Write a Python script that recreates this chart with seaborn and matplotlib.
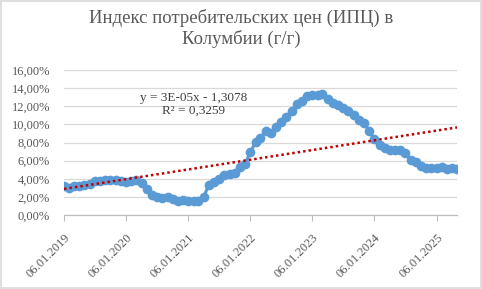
import numpy as np
import pandas as pd
import matplotlib
matplotlib.use("Agg")
import matplotlib.pyplot as plt
import matplotlib.dates as mdates
from matplotlib.ticker import FuncFormatter
import seaborn as sns

title = "Индекс потребительских цен (ИПЦ) в\nКолумбии (г/г)"
start_month = "2019-01-01"
cpi = [
    3.15, 3.01, 3.21, 3.25, 3.31, 3.43, 3.79, 3.75, 3.82, 3.86, 3.84, 3.80,
    3.62, 3.72, 3.86, 3.51, 2.85, 2.19, 1.97, 1.88, 1.97, 1.75, 1.49, 1.61,
    1.60, 1.56, 1.51, 1.95, 3.30, 3.63, 3.97, 4.44, 4.51, 4.58, 5.26, 5.62,
    6.94, 8.01, 8.53, 9.23, 9.07, 9.67, 10.21, 10.84, 11.44, 12.22, 12.53, 13.12,
    13.25, 13.28, 13.34, 12.82, 12.36, 12.13, 11.78, 11.43, 10.99, 10.48, 10.15, 9.28,
    8.35, 7.74, 7.36, 7.16, 7.16, 7.18, 6.86, 6.12, 5.81, 5.41, 5.20, 5.20,
    5.22, 5.28, 5.09, 5.16, 5.05,
]
tick_dates = ["2019-01-01", "2020-01-01", "2021-01-01", "2022-01-01",
              "2023-01-01", "2024-01-01", "2025-01-01"]
tick_labels = ["06.01.2019", "06.01.2020", "06.01.2021", "06.01.2022",
               "06.01.2023", "06.01.2024", "06.01.2025"]
trend_label = "y = 3E-05x - 1,3078\nR² = 0,3259"

dates = pd.date_range(start_month, periods=len(cpi), freq="MS")
df = pd.DataFrame({"date": dates, "cpi": np.array(cpi) / 100.0})

sns.set_theme(style="white")
plt.rcParams["font.family"] = ["Liberation Serif", "DejaVu Serif"]

fig = plt.figure(figsize=(4.82, 2.89), dpi=100)
ax = fig.add_axes([64 / 482, 1 - 215 / 289, (457 - 64) / 482, (215 - 70) / 289])

grey = "#595959"
ax.grid(axis="y", color="#d9d9d9", linewidth=0.9)
ax.set_axisbelow(True)

sns.lineplot(data=df, x="date", y="cpi", ax=ax, color="#5B9BD5", linewidth=2.3,
             marker="o", markersize=7, markeredgewidth=0, zorder=3)

# linear trend
xn = mdates.date2num(df["date"])
coef = np.polyfit(xn, df["cpi"].values, 1)
ax.plot(df["date"], np.polyval(coef, xn), color="#C00000", linestyle=(0, (1, 1.2)),
        linewidth=1.8, zorder=4)

ax.set_xlim(dates[0], dates[-1])
ax.set_ylim(0, 0.16)
ax.set_yticks(np.arange(0, 0.161, 0.02))
ax.yaxis.set_major_formatter(FuncFormatter(lambda v, p: f"{v*100:.2f}%".replace(".", ",")))
ax.set_xticks(pd.to_datetime(tick_dates))
ax.set_xticklabels(tick_labels, rotation=45, ha="right", rotation_mode="anchor")
ax.tick_params(axis="x", colors=grey, labelsize=9, length=4, width=0.8, direction="out",
               bottom=True, pad=8, color="#bfbfbf")
ax.tick_params(axis="y", colors=grey, labelsize=9, length=0, pad=10)
for s in ["top", "right", "left"]:
    ax.spines[s].set_visible(False)
ax.spines["bottom"].set_color("#bfbfbf")
ax.spines["bottom"].set_linewidth(0.9)
ax.set_xlabel("")
ax.set_ylabel("")

ax.text(0.33, 0.85, trend_label, transform=ax.transAxes, ha="center", va="top",
        fontsize=9.5, color="#404040", linespacing=1.1)

fig.text(0.5, 0.97, title, ha="center", va="top", fontsize=13.5, color=grey, linespacing=1.25)

fig.patches.append(plt.Rectangle((0.002, 0.003), 0.996, 0.994, transform=fig.transFigure,
                                 fill=False, edgecolor="#d9d9d9", linewidth=1.2))

fig.savefig("out.png", dpi=100)
